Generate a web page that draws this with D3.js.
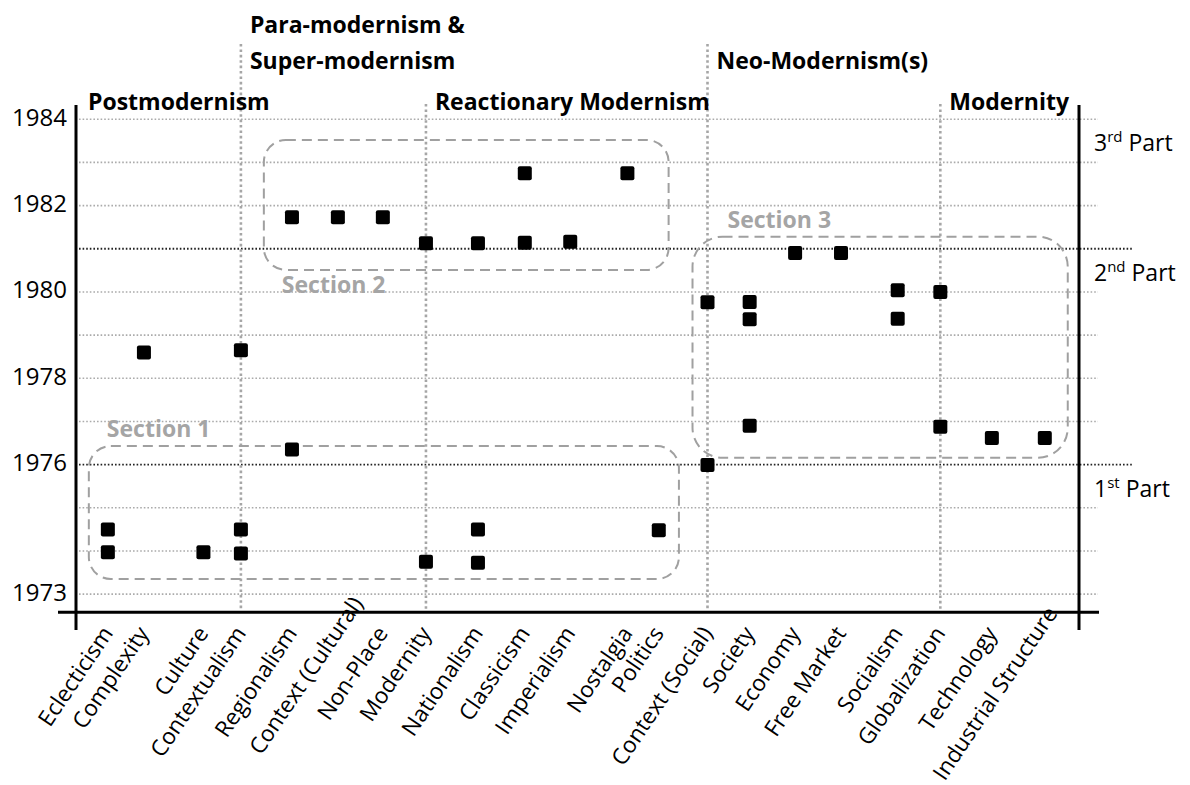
<!DOCTYPE html>
<html>
<head>
<meta charset="utf-8">
<script src="https://cdn.jsdelivr.net/npm/d3@7"></script>
<style>
  body { margin: 0; background: #fff; }
  text { font-family: "Open Sans", sans-serif; }
</style>
</head>
<body>
<svg id="chart" width="1190" height="785" viewBox="0 0 1190 785"></svg>
<script>
// categories along the bottom and where each one sits (scatter x units)
const categories = ["Eclecticism", "Complexity", "Culture", "Contextualism", "Regionalism",
  "Context (Cultural)", "Non-Place", "Modernity", "Nationalism", "Classicism", "Imperialism",
  "Nostalgia", "Politics", "Context (Social)", "Society", "Economy", "Free Market",
  "Socialism", "Globalization", "Technology", "Industrial Structure"]
const catPos = [1.0, 1.77, 3.04, 3.84, 4.93, 5.91, 6.87, 7.79, 8.9, 9.9, 10.87,
  12.09, 12.76, 13.8, 14.7, 15.67, 16.65, 17.86, 18.77, 19.87, 21.0]

// years of the points, one list per category
const yearsByCat = [
  [1974.5, 1973.97],
  [1978.6],
  [1973.97],
  [1978.65, 1974.5, 1973.94],
  [1976.35, 1981.73],
  [1981.73],
  [1981.73],
  [1981.13, 1973.75],
  [1981.13, 1974.5, 1973.73],
  [1982.75, 1981.14],
  [1981.16],
  [1982.75],
  [1974.48],
  [1979.76, 1975.99],
  [1979.77, 1979.37, 1976.9],
  [1980.9],
  [1980.9],
  [1980.04, 1979.38],
  [1980.0, 1976.88],
  [1976.62],
  [1976.62]
]

const yTicks = [1984, 1982, 1980, 1978, 1976, 1973]
const gridYears = d3.range(1973, 1985)
const partBreaks = [1976, 1981]

// eras across the top: name lines, the category they start at, and row
const eraNames = [["Postmodernism"], ["Para-modernism &", "Super-modernism"],
  ["Reactionary Modernism"], ["Neo-Modernism(s)"], ["Modernity"]]
const eraStart = [null, "Contextualism", "Modernity", "Context (Social)", "Globalization"]
const eraRow = [0, 1, 0, 1, 0]

const partNames = [["3", "rd"], ["2", "nd"], ["1", "st"]]
const partTop = [1984, 1981, 1976]

// dashed groups
const sectionNames = ["Section 1", "Section 2", "Section 3"]
const sectionX = [[0.594, 13.19], [4.33, 12.97], [13.48, 21.49]]
const sectionY = [[1973.35, 1976.43], [1980.51, 1983.52], [1976.16, 1981.28]]
const sectionLabelSide = ["top", "bottom", "top"]

const svg = d3.select("#chart")

const x = d3.scaleLinear().domain([0.32, 21.73]).range([76, 1079])
const y = d3.scaleLinear().domain([1972.58, 1984.33]).range([612.3, 105])

const x0 = x.range()[0], x1 = x.range()[1]
const yBottom = y.range()[0], yTop = y.range()[1]

// horizontal grid
svg.append("g").selectAll("line")
  .data(gridYears)
  .enter().append("line")
  .attr("x1", x0 + 3)
  .attr("x2", d => partBreaks.includes(d) ? 1132 : 1098)
  .attr("y1", d => y(d)).attr("y2", d => y(d))
  .attr("stroke", d => partBreaks.includes(d) ? "#222" : "#ababab")
  .attr("stroke-width", d => partBreaks.includes(d) ? 1.8 : 1.6)
  .attr("stroke-dasharray", "1.6,2")

// era dividers
const rowBase = [110, 69]
const eraIdx = d3.range(eraNames.length)
svg.append("g").selectAll("line")
  .data(eraIdx.filter(i => eraStart[i] !== null))
  .enter().append("line")
  .attr("x1", i => x(catPos[categories.indexOf(eraStart[i])]))
  .attr("x2", i => x(catPos[categories.indexOf(eraStart[i])]))
  .attr("y1", i => eraRow[i] === 1 ? 44 : 104)
  .attr("y2", yBottom)
  .attr("stroke", "#a6a6a6")
  .attr("stroke-width", 2.6)
  .attr("stroke-dasharray", "2.6,2.8")

// era labels
svg.append("g").selectAll("text")
  .data(eraIdx)
  .enter().append("text")
  .attr("x", i => eraStart[i] === null ? x0 + 12 : x(catPos[categories.indexOf(eraStart[i])]) + 9)
  .attr("y", i => rowBase[eraRow[i]] - (eraNames[i].length - 1) * 36)
  .attr("font-size", 23)
  .attr("font-weight", "bold")
  .each(function(i) {
    const t = d3.select(this)
    eraNames[i].forEach((line, k) => {
      t.append("tspan")
        .attr("x", t.attr("x"))
        .attr("dy", k === 0 ? 0 : 36)
        .text(line)
    })
  })

// section boxes
const sec = svg.append("g")
sec.selectAll("rect")
  .data(d3.range(sectionNames.length))
  .enter().append("rect")
  .attr("x", i => x(sectionX[i][0]))
  .attr("y", i => y(sectionY[i][1]))
  .attr("width", i => x(sectionX[i][1]) - x(sectionX[i][0]))
  .attr("height", i => y(sectionY[i][0]) - y(sectionY[i][1]))
  .attr("rx", i => i === 2 ? 30 : 22)
  .attr("fill", "none")
  .attr("stroke", "#a0a0a0")
  .attr("stroke-width", 2)
  .attr("stroke-dasharray", "10,6")

sec.selectAll("text")
  .data(d3.range(sectionNames.length))
  .enter().append("text")
  .attr("x", i => x(sectionX[i][0]) + (i === 2 ? 35 : 18))
  .attr("y", i => sectionLabelSide[i] === "top" ? y(sectionY[i][1]) - 9 : y(sectionY[i][0]) + 23)
  .attr("font-size", 23)
  .attr("font-weight", "bold")
  .attr("fill", "#a5a5a5")
  .text(i => sectionNames[i])

// points
const pts = []
yearsByCat.forEach((ys, i) => ys.forEach(v => pts.push({pos: catPos[i], year: v})))
const s = 14
svg.append("g").selectAll("rect")
  .data(pts)
  .enter().append("rect")
  .attr("x", d => x(d.pos) - s / 2)
  .attr("y", d => y(d.year) - s / 2)
  .attr("width", s).attr("height", s)
  .attr("rx", 2)
  .attr("fill", "#000")

// axes
const axes = svg.append("g").attr("stroke", "#000").attr("stroke-width", 3)
axes.append("line").attr("x1", x0).attr("x2", x0).attr("y1", yTop).attr("y2", 630)
axes.append("line").attr("x1", x1).attr("x2", x1).attr("y1", yTop).attr("y2", 630)
axes.append("line").attr("x1", 58).attr("x2", 1099).attr("y1", yBottom).attr("y2", yBottom)

// year labels
svg.append("g").selectAll("text")
  .data(yTicks)
  .enter().append("text")
  .attr("x", 67)
  .attr("y", d => y(d) - 2)
  .attr("dy", "0.35em")
  .attr("text-anchor", "end")
  .attr("font-size", 24)
  .text(d => d)

// category labels, rotated
const angle = -56
const raised = {"Context (Cultural)": 36, "Industrial Structure": 24}
const ux = Math.cos(angle * Math.PI / 180), uy = Math.sin(angle * Math.PI / 180)
svg.append("g").selectAll("text")
  .data(categories)
  .enter().append("text")
  .attr("transform", (d, i) => {
    const shift = raised[d] || 0
    const px = x(catPos[i]) + (d === "Industrial Structure" ? 0 : 6) + ux * shift
    const py = yBottom + 21 + uy * shift
    return `translate(${px},${py}) rotate(${angle})`
  })
  .attr("text-anchor", "end")
  .attr("font-size", 22.5)
  .text(d => d)

// part labels on the right
svg.append("g").selectAll("text")
  .data(d3.range(partNames.length))
  .enter().append("text")
  .attr("x", 1094)
  .attr("y", i => y(partTop[i]) + 32)
  .attr("font-size", 23)
  .each(function(i) {
    const t = d3.select(this)
    t.append("tspan").text(partNames[i][0])
    t.append("tspan").attr("font-size", 15).attr("dy", -9).text(partNames[i][1])
    t.append("tspan").attr("dy", 9).text(" Part")
  })
</script>
</body>
</html>
